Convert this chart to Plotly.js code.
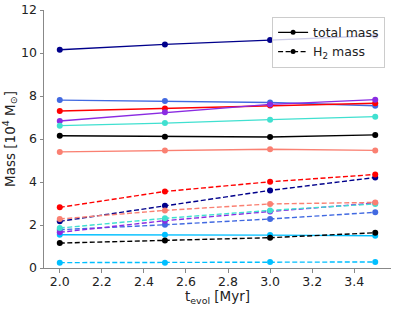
<!DOCTYPE html>
<html>
<head>
<meta charset="utf-8">
<script src="https://cdn.plot.ly/plotly-3.0.1.min.js"></script>
<style>html,body{margin:0;padding:0;background:#fff;}#chart{width:395px;height:309px;}</style>
</head>
<body>
<div id="chart"></div>
<script>
// evolution times [Myr]
const tEvol = [2.0, 2.5, 3.0, 3.5];

// cloud colours (one per cloud)
const cloudColors = ['#00008B', '#4169E1', '#FF0000', '#8A2BE2', '#40E0D0', '#000000', '#FA8072', '#00BFFF'];

// total mass [10^4 Msun], per cloud
const totalNavy      = [10.15, 10.40, 10.60, 10.80];
const totalRoyal     = [7.81, 7.77, 7.70, 7.55];
const totalRed       = [7.30, 7.42, 7.56, 7.66];
const totalViolet    = [6.84, 7.24, 7.61, 7.83];
const totalTurquoise = [6.62, 6.74, 6.90, 7.04];
const totalBlack     = [6.15, 6.11, 6.09, 6.19];
const totalSalmon    = [5.40, 5.46, 5.52, 5.47];
const totalSky       = [1.55, 1.55, 1.53, 1.50];

// H2 mass [10^4 Msun], per cloud
const h2Navy      = [2.17, 2.90, 3.61, 4.21];
const h2Royal     = [1.78, 2.01, 2.28, 2.59];
const h2Red       = [2.82, 3.56, 4.01, 4.35];
const h2Violet    = [1.66, 2.20, 2.63, 3.02];
const h2Turquoise = [1.86, 2.31, 2.68, 2.98];
const h2Black     = [1.16, 1.28, 1.41, 1.64];
const h2Salmon    = [2.28, 2.68, 2.98, 3.05];
const h2Sky       = [0.25, 0.25, 0.28, 0.28];

const totals = [totalNavy, totalRoyal, totalRed, totalViolet, totalTurquoise, totalBlack, totalSalmon, totalSky];
const h2s = [h2Navy, h2Royal, h2Red, h2Violet, h2Turquoise, h2Black, h2Salmon, h2Sky];

const xTickVals = [2.0, 2.2, 2.4, 2.6, 2.8, 3.0, 3.2, 3.4];
const xTickText = ['2.0', '2.2', '2.4', '2.6', '2.8', '3.0', '3.2', '3.4'];
const yTickVals = [0, 2, 4, 6, 8, 10, 12];

const legendLabels = ['total mass', 'H<sub>2</sub> mass'];

const dashStyle = '5px,2.5px';
const traces = [];
totals.forEach((ys, i) => {
  traces.push({x: tEvol, y: ys, mode: 'lines+markers', showlegend: false,
    line: {color: cloudColors[i], width: 1.4, dash: 'solid'},
    marker: {color: cloudColors[i], size: 6}});
});
h2s.forEach((ys, i) => {
  traces.push({x: tEvol, y: ys, mode: 'lines+markers', showlegend: false,
    line: {color: cloudColors[i], width: 1.4, dash: dashStyle},
    marker: {color: cloudColors[i], size: 6}});
});
// legend proxies
traces.push({x: [null], y: [null], mode: 'lines+markers', name: legendLabels[0],
  line: {color: '#000', width: 1.4, dash: 'solid'}, marker: {color: '#000', size: 5}});
traces.push({x: [null], y: [null], mode: 'lines+markers', name: legendLabels[1],
  line: {color: '#000', width: 1.4, dash: dashStyle}, marker: {color: '#000', size: 5}});

const txt = '#222';
const layout = {
  width: 395, height: 309,
  margin: {l: 43.5, r: 4, t: 10, b: 41, pad: 0},
  paper_bgcolor: '#fff', plot_bgcolor: '#fff',
  font: {family: 'DejaVu Sans', size: 12, color: txt},
  showlegend: true,
  xaxis: {range: [1.925, 3.575], tickvals: xTickVals, ticktext: xTickText,
    tickfont: {family: 'DejaVu Sans', size: 12.5, color: txt}, ticklabelstandoff: -2,
    ticks: 'outside', ticklen: 3.5, tickcolor: '#888', showline: true, linecolor: '#888', linewidth: 1,
    showgrid: false, zeroline: false,
    title: {text: 't<sub>evol</sub> [Myr]', font: {family: 'DejaVu Sans', size: 13.5, color: txt}, standoff: 2}},
  yaxis: {range: [0, 12], tickvals: yTickVals,
    tickfont: {family: 'DejaVu Sans', size: 12.5, color: txt},
    ticks: 'outside', ticklen: 3.5, tickcolor: '#888', showline: true, linecolor: '#888', linewidth: 1,
    showgrid: false, zeroline: false,
    title: {text: 'Mass [10<sup>4</sup> M<sub>⊙</sub>]', font: {family: 'DejaVu Sans', size: 13.5, color: txt}, standoff: 3}},
  xaxis2: {matches: 'x', overlaying: 'x', side: 'top', anchor: 'y', ticks: 'inside', ticklen: 3.5, tickcolor: '#888',
    tickvals: xTickVals, showticklabels: false,
    showline: true, linecolor: '#888', linewidth: 1, showgrid: false, zeroline: false},
  yaxis2: {matches: 'y', overlaying: 'y', side: 'right', anchor: 'x', ticks: 'inside', ticklen: 3.5, tickcolor: '#888',
    tickvals: yTickVals, showticklabels: false,
    showline: true, linecolor: '#888', linewidth: 1, showgrid: false, zeroline: false},
  legend: {x: 0.983, y: 0.974, xanchor: 'right', yanchor: 'top',
    bgcolor: 'rgba(255,255,255,0.8)', bordercolor: '#ccc', borderwidth: 1,
    font: {family: 'DejaVu Sans', size: 12.5, color: txt}, tracegroupgap: 0, itemwidth: 30}
};

Plotly.newPlot('chart', traces, layout, {staticPlot: true, displayModeBar: false});
</script>
</body>
</html>
